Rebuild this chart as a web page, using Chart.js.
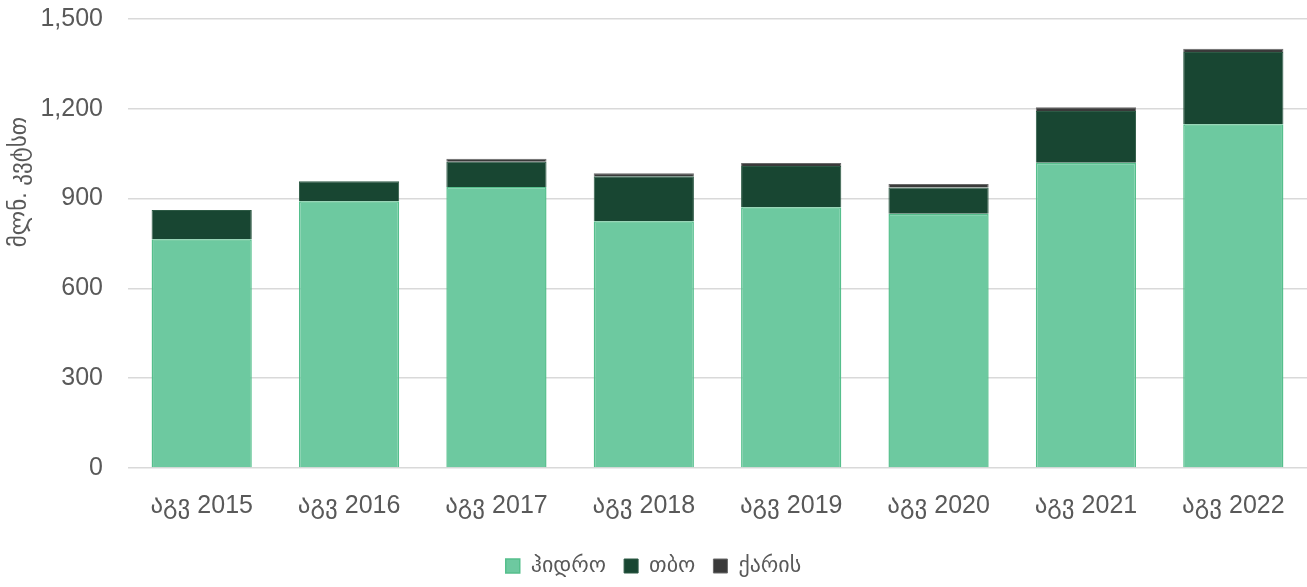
<!DOCTYPE html>
<html>
<head>
<meta charset="utf-8">
<script src="https://cdn.jsdelivr.net/npm/chart.js@4/dist/chart.umd.min.js"></script>
<style>
  html, body { margin: 0; padding: 0; background: #fff; }
  #wrap { width: 1307px; height: 587px; }
</style>
</head>
<body>
<div id="wrap"><canvas id="canvas-bars"></canvas></div>
<script>
const categories = ['აგვ 2015', 'აგვ 2016', 'აგვ 2017', 'აგვ 2018', 'აგვ 2019', 'აგვ 2020', 'აგვ 2021', 'აგვ 2022'];
const hydro = [764, 891, 939, 824, 871, 849, 1020, 1148];
const thermal = [98, 67, 84, 151, 138, 88, 173, 242];
const wind = [0, 0, 10, 10, 10, 12, 12, 11];
const yTicks = [0, 300, 600, 900, 1200, 1500];
const yTitle = 'მლნ. კვტსთ';

const fontFamily = '"Liberation Sans", Arial, "DejaVu Sans", sans-serif';

// y axis title sits above the middle of the axis in the original, so draw it by hand
const yTitlePlugin = {
  id: 'yTitle',
  afterDraw: function (chart) {
    const ctx = chart.ctx;
    ctx.save();
    ctx.translate(20, 182);
    ctx.rotate(-Math.PI / 2);
    ctx.fillStyle = '#595959';
    ctx.font = '23px ' + fontFamily;
    ctx.textAlign = 'center';
    ctx.textBaseline = 'middle';
    ctx.fillText(yTitle, 0, 0);
    ctx.restore();
  }
};

window.addEventListener('DOMContentLoaded', function () {
  new Chart(document.getElementById('canvas-bars'), {
    type: 'bar',
    data: {
      labels: categories,
      datasets: [
        {
          label: 'ჰიდრო',
          data: hydro,
          backgroundColor: '#6DC9A0',
          borderColor: '#55BF8C',
          borderWidth: 1.5
        },
        {
          label: 'თბო',
          data: thermal,
          backgroundColor: '#184632',
          borderColor: '#2D5A45',
          borderWidth: 1
        },
        {
          label: 'ქარის',
          data: wind,
          backgroundColor: '#3A3A3A',
          borderColor: '#6A6A6A',
          borderWidth: 1
        }
      ]
    },
    plugins: [yTitlePlugin],
    options: {
      responsive: true,
      maintainAspectRatio: false,
      animation: false,
      barPercentage: 0.68,
      categoryPercentage: 1,
      layout: { padding: { top: 19, right: 0, left: 0, bottom: 0 } },
      scales: {
        x: {
          stacked: true,
          grid: { display: false },
          border: { display: false },
          afterFit: function (axis) {
            axis.height = 69;
          },
          ticks: {
            color: '#595959',
            font: { family: fontFamily, size: 25 },
            padding: 15
          }
        },
        y: {
          stacked: true,
          min: 0,
          max: 1500,
          afterBuildTicks: function (axis) {
            axis.ticks = yTicks.map(v => ({ value: v }));
          },
          afterFit: function (axis) {
            axis.width = 128;
          },
          grid: {
            color: '#D9D9D9',
            lineWidth: 1.5,
            drawTicks: true,
            tickLength: 25,
            tickColor: 'rgba(0,0,0,0)'
          },
          border: { display: false },
          ticks: {
            color: '#595959',
            font: { family: fontFamily, size: 25 },
            padding: 0,
            callback: v => v.toLocaleString('en-US')
          }
        }
      },
      plugins: {
        legend: {
          position: 'bottom',
          labels: {
            color: '#595959',
            font: { family: fontFamily, size: 22 },
            boxWidth: 14,
            boxHeight: 14,
            padding: 18
          }
        },
        tooltip: { enabled: false }
      }
    }
  });
});
</script>
</body>
</html>
